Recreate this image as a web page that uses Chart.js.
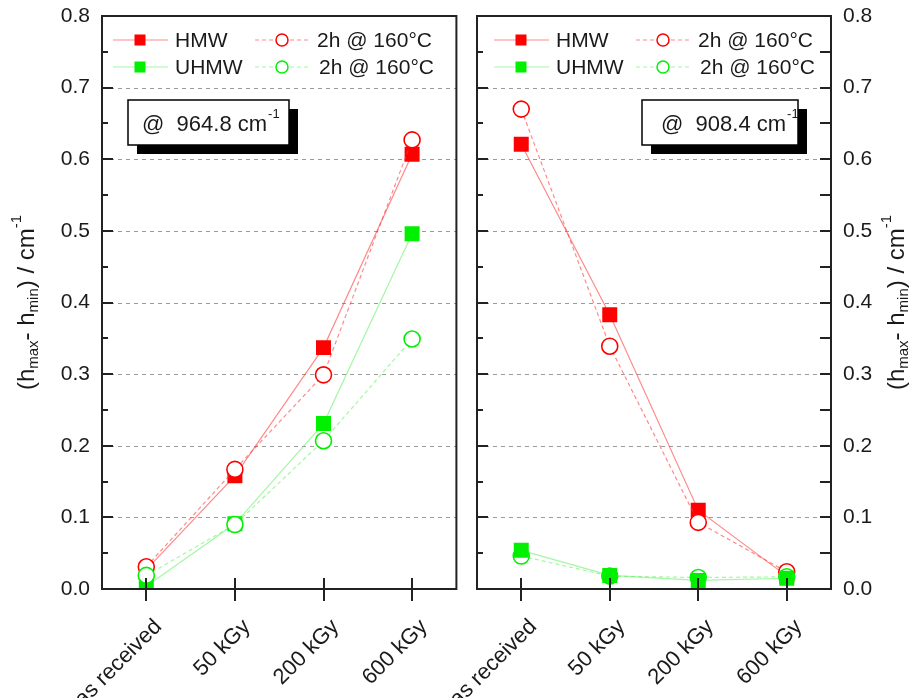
<!DOCTYPE html>
<html>
<head>
<meta charset="utf-8">
<script src="https://cdn.jsdelivr.net/npm/chart.js@4/dist/chart.umd.min.js"></script>
<style>
  html, body { margin: 0; background: #fff; }
  #wrap { position: relative; width: 919px; height: 698px; overflow: hidden; }
  canvas { position: absolute; top: 0; }
  #c1 { left: 0; }
  #c2 { left: 360px; }
</style>
</head>
<body>
<div id="wrap">
  <canvas id="c1" width="467" height="698"></canvas>
  <canvas id="c2" width="559" height="698"></canvas>
</div>
<script>
const categories = ['as received', '50 kGy', '200 kGy', '600 kGy'];

// @ 964.8 cm-1
const hmw964 = [0.027, 0.158, 0.337, 0.607];
const hmw964Annealed = [0.031, 0.167, 0.299, 0.627];
const uhmw964 = [0.004, 0.091, 0.231, 0.496];
const uhmw964Annealed = [0.019, 0.090, 0.207, 0.349];

// @ 908.4 cm-1
const hmw908 = [0.621, 0.383, 0.110, 0.018];
const hmw908Annealed = [0.670, 0.339, 0.093, 0.024];
const uhmw908 = [0.054, 0.019, 0.012, 0.015];
const uhmw908Annealed = [0.046, 0.018, 0.016, 0.017];

const yTickLabels = ['0.0', '0.1', '0.2', '0.3', '0.4', '0.5', '0.6', '0.7', '0.8'];
const seriesLabels = ['HMW', '2h @ 160°C', 'UHMW', '2h @ 160°C'];

const FONT = "'Liberation Sans', Arial, sans-serif";
const INK = '#1a1a1a';
const RED = '#ff0000';
const GREEN = '#00f000';
const RED_LINE = 'rgba(255, 60, 60, 0.6)';
const GREEN_LINE = 'rgba(90, 240, 90, 0.55)';

const series = (label, data, color, lineColor, filled, dashed, order) => ({
  label, data, order,
  borderColor: lineColor,
  borderWidth: 1.2,
  borderDash: dashed ? [4, 3] : [],
  pointStyle: filled ? 'rect' : 'circle',
  pointRadius: filled ? 10.6 : 8,
  pointHoverRadius: filled ? 10.6 : 8,
  pointBorderColor: color,
  pointBackgroundColor: filled ? color : '#fff',
  pointBorderWidth: filled ? 0 : 1.6,
  tension: 0,
  _filled: filled,
  _marker: color
});

// dashed grid, frame, inward ticks
const framePlugin = {
  id: 'framePlugin',
  beforeDatasetsDraw(chart) {
    const { ctx, chartArea: a, scales: { y } } = chart;
    ctx.save();
    ctx.strokeStyle = '#9a9a9a';
    ctx.lineWidth = 1;
    ctx.setLineDash([4, 4]);
    y.ticks.forEach(t => {
      if (t.value <= y.min || t.value >= y.max) return;
      const py = Math.round(y.getPixelForValue(t.value)) + 0.5;
      ctx.beginPath();
      ctx.moveTo(a.left, py);
      ctx.lineTo(a.right, py);
      ctx.stroke();
    });
    ctx.restore();
  },
  afterDatasetsDraw(chart, args, opts) {
    const { ctx, chartArea: a, scales: { x, y } } = chart;
    ctx.save();
    ctx.strokeStyle = '#222';
    ctx.lineWidth = 2;
    ctx.beginPath();
    // y ticks, major and minor (half step)
    const vals = y.ticks.map(t => t.value);
    const marks = [];
    vals.forEach((v, i) => {
      marks.push([v, 11]);
      if (i < vals.length - 1) marks.push([(v + vals[i + 1]) / 2, 6]);
    });
    marks.forEach(([v, len]) => {
      if (v <= y.min || v >= y.max) return;
      const py = Math.round(y.getPixelForValue(v));
      ctx.moveTo(a.left, py);
      ctx.lineTo(a.left + len, py);
      if (opts.rightTicks) {
        ctx.moveTo(a.right, py);
        ctx.lineTo(a.right - 11, py);
      }
    });
    x.ticks.forEach((t, i) => {
      const px = Math.round(x.getPixelForTick(i));
      ctx.moveTo(px, a.bottom - 11);
      ctx.lineTo(px, a.bottom + 12);
    });
    ctx.stroke();
    ctx.strokeRect(a.left, a.top, a.right - a.left, a.bottom - a.top);
    ctx.restore();
  }
};

// two-row legend with line samples
const legendPlugin = {
  id: 'legendPlugin',
  afterDraw(chart, args, opts) {
    const { ctx, chartArea: a } = chart;
    const ds = chart.data.datasets;
    ctx.save();
    ctx.font = '21px ' + FONT;
    ctx.fillStyle = INK;
    ctx.textBaseline = 'middle';
    ds.forEach((d, i) => {
      const row = Math.floor(i / 2), col = i % 2;
      const x0 = a.left + opts.x + col * 142;
      const yc = a.top + 24 + row * 27;
      ctx.strokeStyle = d.borderColor;
      ctx.lineWidth = 1.2;
      ctx.setLineDash(d.borderDash);
      ctx.beginPath();
      ctx.moveTo(x0, yc);
      ctx.lineTo(x0 + 55, yc);
      ctx.stroke();
      ctx.setLineDash([]);
      const mx = x0 + 27;
      if (d._filled) {
        ctx.fillStyle = d._marker;
        ctx.fillRect(mx - 5.5, yc - 5.5, 11, 11);
      } else {
        ctx.fillStyle = '#fff';
        ctx.strokeStyle = d._marker;
        ctx.lineWidth = 1.5;
        ctx.beginPath();
        ctx.arc(mx, yc, 6, 0, Math.PI * 2);
        ctx.fill();
        ctx.stroke();
      }
      ctx.fillStyle = INK;
      ctx.fillText(d.label, x0 + 62 + (row === 1 && col === 1 ? 2 : 0), yc + 1);
    });
    ctx.restore();
  }
};

// boxed wavenumber note with shadow, and rotated y title
const notePlugin = {
  id: 'notePlugin',
  afterDraw(chart, args, opts) {
    const { ctx, chartArea: a } = chart;
    ctx.save();
    const bx = a.left + opts.x, by = a.top + 84, bw = opts.w, bh = 45;
    ctx.fillStyle = '#000';
    ctx.fillRect(bx + 9, by + 9, bw, bh);
    ctx.fillStyle = '#fff';
    ctx.fillRect(bx, by, bw, bh);
    ctx.strokeStyle = '#000';
    ctx.lineWidth = 1.5;
    ctx.strokeRect(bx, by, bw, bh);
    ctx.fillStyle = INK;
    ctx.textBaseline = 'middle';
    ctx.font = '22px ' + FONT;
    const tx = bx + opts.pad;
    ctx.fillText(opts.text, tx, by + bh / 2 + 2);
    const tw = ctx.measureText(opts.text).width;
    ctx.font = '13px ' + FONT;
    ctx.fillText('-1', tx + tw + 1, by + bh / 2 - 8);

    // y axis title
    const parts = [
      ['(h', 0], ['max', 1], ['- h', 0], ['min', 1], [') / cm', 0], ['-1', -1]
    ];
    const fontOf = k => (k === 0 ? '24px ' : '15px ') + FONT;
    let total = 0;
    parts.forEach(([t, k]) => { ctx.font = fontOf(k); total += ctx.measureText(t).width; });
    ctx.translate(opts.titleX, (a.top + a.bottom) / 2);
    ctx.rotate(-Math.PI / 2);
    let cx = -total / 2;
    ctx.textBaseline = 'middle';
    parts.forEach(([t, k]) => {
      ctx.font = fontOf(k);
      const off = k === 1 ? 7 : (k === -1 ? -10 : 0);
      ctx.fillText(t, cx, off);
      cx += ctx.measureText(t).width;
    });
    ctx.restore();
  }
};

function makePanel(canvasId, side, sets, note) {
  const isLeft = side === 'left';
  return new Chart(document.getElementById(canvasId), {
    type: 'line',
    data: { labels: categories, datasets: sets },
    plugins: [framePlugin, legendPlugin, notePlugin],
    options: {
      responsive: false,
      animation: false,
      events: [],
      layout: { padding: { left: isLeft ? 0 : 117, right: isLeft ? 10 : 0, top: 16, bottom: 0 } },
      scales: {
        x: {
          type: 'category',
          offset: true,
          grid: { display: false, drawTicks: false },
          border: { display: false },
          ticks: {
            color: INK,
            font: { family: FONT, size: 22 },
            minRotation: 45,
            maxRotation: 45,
            padding: 25,
            labelOffset: 12,
            autoSkip: false
          },
          afterFit(scale) {
            scale.height = 109;
            scale.paddingLeft = 0;
            scale.paddingRight = 0;
          }
        },
        y: {
          position: isLeft ? 'left' : 'right',
          min: 0,
          max: 0.8,
          grid: { display: false, drawTicks: false },
          border: { display: false },
          ticks: {
            stepSize: 0.1,
            color: INK,
            padding: 12,
            font: { family: FONT, size: 21 },
            callback: (v, i) => yTickLabels[i]
          },
          afterFit(scale) {
            scale.width = isLeft ? 102 : 88;
            scale.paddingTop = 0;
            scale.paddingBottom = 0;
          }
        }
      },
      plugins: {
        legend: { display: false },
        tooltip: { enabled: false },
        framePlugin: { rightTicks: !isLeft },
        legendPlugin: { x: isLeft ? 11 : 17 },
        notePlugin: note
      }
    }
  });
}

makePanel('c1', 'left', [
  series(seriesLabels[0], hmw964, RED, RED_LINE, true, false, 4),
  series(seriesLabels[1], hmw964Annealed, RED, RED_LINE, false, true, 3),
  series(seriesLabels[2], uhmw964, GREEN, GREEN_LINE, true, false, 2),
  series(seriesLabels[3], uhmw964Annealed, GREEN, GREEN_LINE, false, true, 1)
], { text: '@  964.8 cm', x: 26, w: 161, pad: 14, titleX: 27 });

makePanel('c2', 'right', [
  series(seriesLabels[0], hmw908, RED, RED_LINE, true, false, 4),
  series(seriesLabels[1], hmw908Annealed, RED, RED_LINE, false, true, 3),
  series(seriesLabels[2], uhmw908, GREEN, GREEN_LINE, true, false, 1),
  series(seriesLabels[3], uhmw908Annealed, GREEN, GREEN_LINE, false, true, 2)
], { text: '@  908.4 cm', x: 165, w: 156, pad: 19, titleX: 537 });
</script>
</body>
</html>
